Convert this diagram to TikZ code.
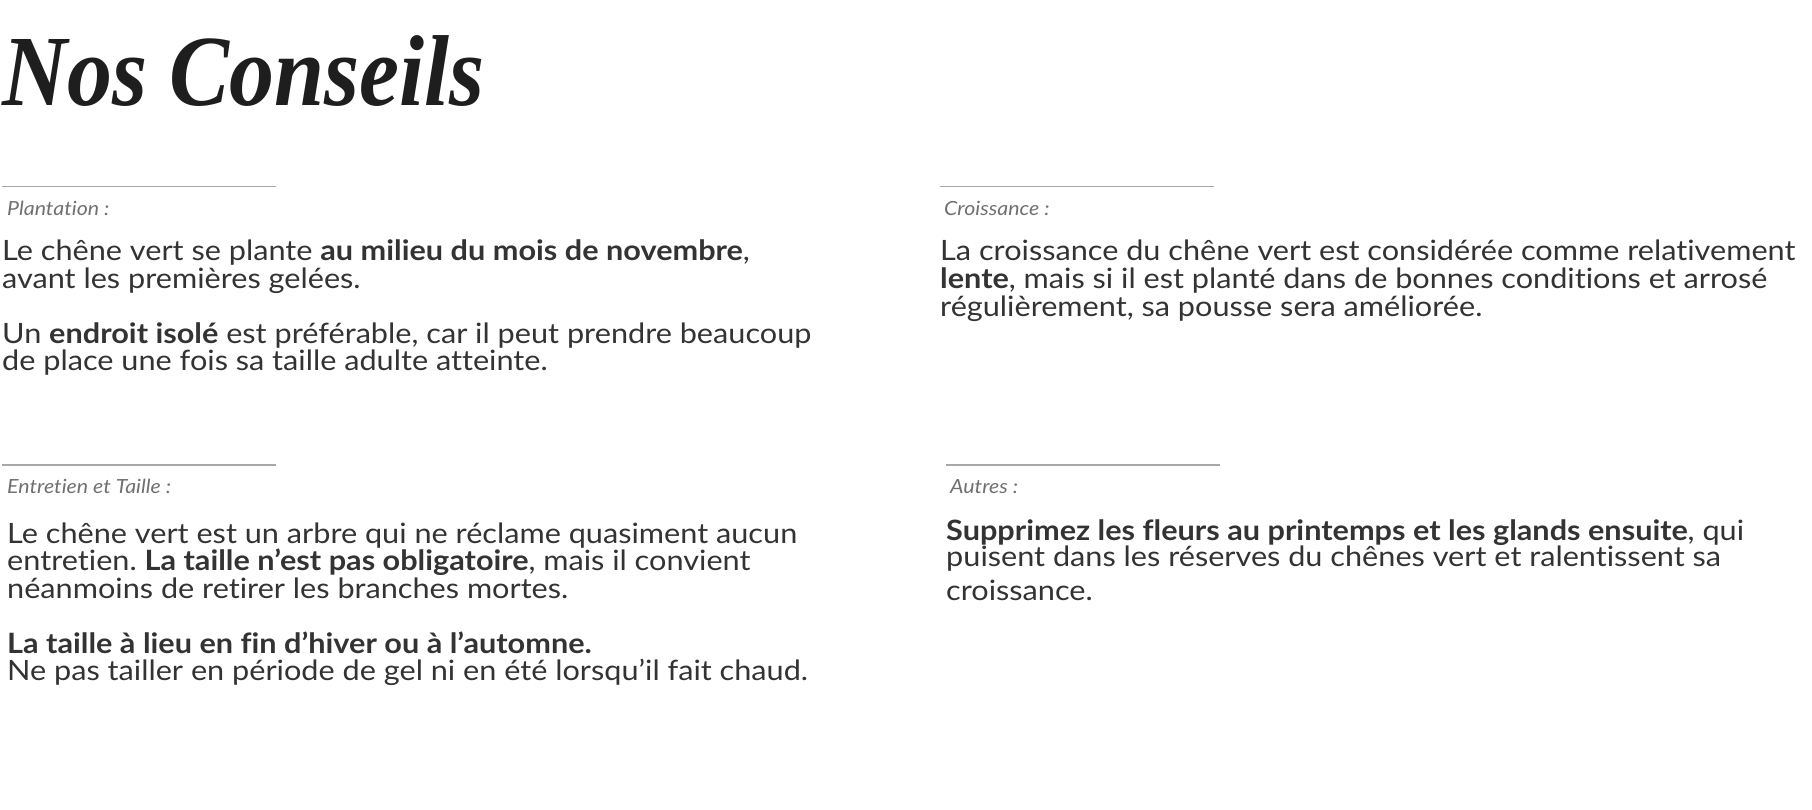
\documentclass[tikz,border=0pt]{standalone}
\usepackage{fontspec}
\usepackage{graphicx}
\setmainfont{Lato}[FakeStretch=1.095,Ligatures={NoCommon}]
\newfontfamily\titlefont{Liberation Serif}
\usepackage{tikz}
\usetikzlibrary{positioning}
\definecolor{ink}{HTML}{333333}
\definecolor{titleink}{HTML}{1E1E1E}
\definecolor{headgray}{HTML}{707070}
\definecolor{rulegray}{HTML}{A8A8A8}
\frenchspacing

\begin{document}
\begin{tikzpicture}[x=1pt,y=-1pt,
  body/.style={anchor=base west,inner sep=0pt,text=ink,font=\fontsize{28}{28}\selectfont},
  heading/.style={anchor=base west,inner sep=0pt,text=headgray,font=\fontsize{19.5}{19.5}\selectfont\itshape},
  sepline/.style={draw=rulegray,line width=1.2pt}]
\path[use as bounding box] (0,0) rectangle (1812,810);
\node (titre) at (2,106)[anchor=base west,inner sep=0pt,text=titleink,font=\fontsize{90}{90}\titlefont\bfseries\itshape]{\scalebox{1}[1.12]{Nos Conseils}};

\draw[sepline] (2,186.5) -- (276,186.5);
\draw[sepline] (940,186.5) -- (1214,186.5);
\draw[sepline] (2,465) -- (276,465);
\draw[sepline] (946,465) -- (1220,465);

\node (hplant) at (7,216)[heading]{Plantation :};
\node (hcrois) at (944,216)[heading]{Croissance :};
\node (hentre) at (7,493)[heading]{Entretien et Taille :};
\node (hautre) at (950,493)[heading]{Autres :};

\foreach \t [count=\i from 0] in {{Le chêne vert se plante \textbf{au milieu du mois de novembre},},
  {avant les premières gelées.}, {},
  {Un \textbf{endroit isolé} est préférable, car il peut prendre beaucoup},
  {de place une fois sa taille adulte atteinte.}}
  \node (plant\i) at (2,260.7+27.5*\i)[body]{\t};

\foreach \t [count=\i from 0] in {{La croissance du chêne vert est considérée comme relativement},
  {\textbf{lente}, mais si il est planté dans de bonnes conditions et arrosé},
  {régulièrement, sa pousse sera améliorée.}}
  \node (crois\i) at (940,260.7+27.7*\i)[body]{\t};

\foreach \t [count=\i from 0] in {{Le chêne vert est un arbre qui ne réclame quasiment aucun},
  {entretien. \textbf{La taille n’est pas obligatoire}, mais il convient},
  {néanmoins de retirer les branches mortes.}, {},
  {\textbf{La taille à lieu en fin d’hiver ou à l’automne.}},
  {Ne pas tailler en période de gel ni en été lorsqu’il fait chaud.}}
  \node (entre\i) at (7,543+27.5*\i)[body]{\t};

\foreach \t/\y [count=\i from 0] in {{\textbf{Supprimez les fleurs au printemps et les glands ensuite}, qui}/540,
  {puisent dans les réserves du chênes vert et ralentissent sa}/566,
  {croissance.}/600}
  \node (autre\i) at (946,\y)[body]{\t};
\end{tikzpicture}
\end{document}
